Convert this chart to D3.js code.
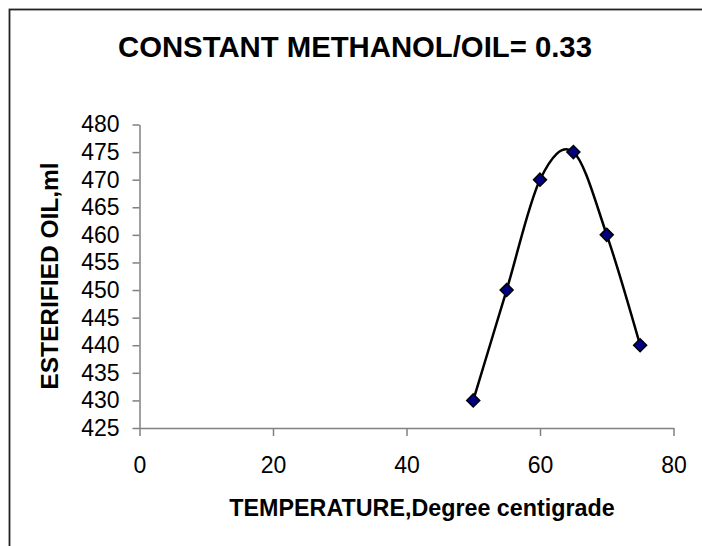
<!DOCTYPE html>
<html>
<head>
<meta charset="utf-8">
<script src="https://d3js.org/d3.v7.min.js"></script>
<style>
  html, body { margin: 0; padding: 0; background: #fff; }
  svg { display: block; }
  text { font-family: Arial, "Liberation Sans", sans-serif; }
</style>
</head>
<body>
<svg id="chart" width="702" height="546"></svg>
<script>
const temperature = [50, 55, 60, 65, 70, 75];
const esterifiedOil = [430, 450, 470, 475, 460, 440];
const xTicks = [0, 20, 40, 60, 80];
const yTicks = [425, 430, 435, 440, 445, 450, 455, 460, 465, 470, 475, 480];
const titleText = "CONSTANT METHANOL/OIL= 0.33";
const xLabel = "TEMPERATURE,Degree centigrade";
const yLabel = "ESTERIFIED OIL,ml";

(function () {
const svg = d3.select("#chart");

// outer border
svg.append("rect")
  .attr("x", 9.5).attr("y", 9.5)
  .attr("width", 720).attr("height", 560)
  .attr("fill", "#fff").attr("stroke", "#222").attr("stroke-width", 1.8);

const plotLeft = 139.5, plotRight = 673.5, plotTop = 124.5, plotBottom = 428;

const x = d3.scaleLinear().domain([0, 80]).range([plotLeft, plotRight]);
const y = d3.scaleLinear().domain([425, 480]).range([plotBottom, plotTop]);

// title
svg.append("text")
  .attr("x", 355).attr("y", 57)
  .attr("text-anchor", "middle")
  .attr("font-size", 29.3).attr("font-weight", "bold")
  .attr("fill", "#000")
  .text(titleText);

// y axis
const yAxis = svg.append("g")
  .attr("transform", `translate(${plotLeft},0)`)
  .call(d3.axisLeft(y).tickValues(yTicks).tickSize(7).tickPadding(13).tickSizeOuter(0));
// x axis
const xAxis = svg.append("g")
  .attr("transform", `translate(0,${plotBottom})`)
  .call(d3.axisBottom(x).tickValues(xTicks).tickSize(8).tickPadding(21).tickSizeOuter(0));

[yAxis, xAxis].forEach(g => {
  g.select(".domain").attr("stroke", "#808080").attr("stroke-width", 1.5);
  g.selectAll(".tick line").attr("stroke", "#808080").attr("stroke-width", 1.5);
  g.selectAll(".tick text")
    .attr("font-family", "Arial, 'Liberation Sans', sans-serif")
    .attr("font-size", 23).attr("fill", "#000");
});

// axis labels
svg.append("text")
  .attr("x", 422).attr("y", 516)
  .attr("text-anchor", "middle")
  .attr("font-size", 23.3).attr("font-weight", "bold")
  .text(xLabel);

svg.append("text")
  .attr("transform", `translate(58,276) rotate(-90)`)
  .attr("text-anchor", "middle")
  .attr("font-size", 24.5).attr("font-weight", "bold")
  .text(yLabel);

// data
const data = temperature.map((t, i) => ({ t, v: esterifiedOil[i] }));

const line = d3.line()
  .x(d => x(d.t)).y(d => y(d.v))
  .curve(d3.curveCardinal.tension(0));

svg.append("path")
  .datum(data)
  .attr("d", line)
  .attr("fill", "none")
  .attr("stroke", "#000")
  .attr("stroke-width", 2.5);

svg.append("g").selectAll("path.marker")
  .data(data)
  .join("path")
  .attr("class", "marker")
  .attr("transform", d => `translate(${x(d.t)},${y(d.v)})`)
  .attr("d", "M0,-6.5L6.5,0L0,6.5L-6.5,0Z")
  .attr("fill", "#000080")
  .attr("stroke", "#000")
  .attr("stroke-width", 1.5);
})();
</script>
</body>
</html>
